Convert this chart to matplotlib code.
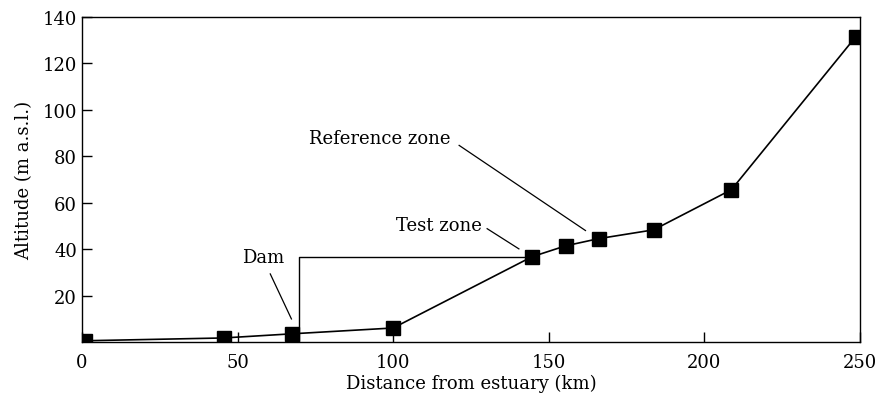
import matplotlib.pyplot as plt

plt.rcParams['font.family'] = ['DejaVu Serif']

distance = [1, 45.5, 67.6, 100, 144.6, 155.4, 166, 183.7, 208.7, 248.7]
altitude = [0.5, 1.7, 3.5, 6, 36.7, 41.4, 44.5, 48.3, 65.6, 131.6]

dam_x = 69.6
test_level = 36.7

# label text, text anchor, leader line (x0, x1), (y0, y1)
labels = ['Dam', 'Test zone', 'Reference zone']
label_pos = [(58.2, 36.8), (128.6, 50.2), (118.5, 88.0)]
label_ha = ['center', 'right', 'right']
leader_x = [(60.5, 67.3), (130.2, 140.4), (121.2, 161.8)]
leader_y = [(29.3, 9.9), (48.8, 40.1), (84.7, 48.0)]

fig = plt.figure(figsize=(8.79, 4.02), dpi=100)
ax = fig.add_axes([0.0933, 0.147, 0.885, 0.808])

ax.plot(distance, altitude, color='black', lw=1.2, marker='s', markersize=10,
        markerfacecolor='black', markeredgecolor='black', zorder=3)

# dam bracket
ax.plot([dam_x, dam_x, distance[4]], [0, test_level, test_level], color='black', lw=1.0)

for txt, (tx, ty), ha, lx, ly in zip(labels, label_pos, label_ha, leader_x, leader_y):
    ax.text(tx, ty, txt, ha=ha, va='center', fontsize=13)
    ax.plot(lx, ly, color='black', lw=0.9)

ax.set_xlim(0, 250)
ax.set_ylim(0, 140)
ax.set_xticks([0, 50, 100, 150, 200, 250])
ax.set_yticks([20, 40, 60, 80, 100, 120, 140])
ax.tick_params(direction='in', length=7, width=1, labelsize=13)
ax.tick_params(axis='x', pad=8)
ax.set_xlabel('Distance from estuary (km)', fontsize=13, labelpad=2)
ax.set_ylabel('Altitude (m a.s.l.)', fontsize=13, labelpad=7)
for s in ax.spines.values():
    s.set_linewidth(1.0)

fig.savefig('out.png', dpi=100)
